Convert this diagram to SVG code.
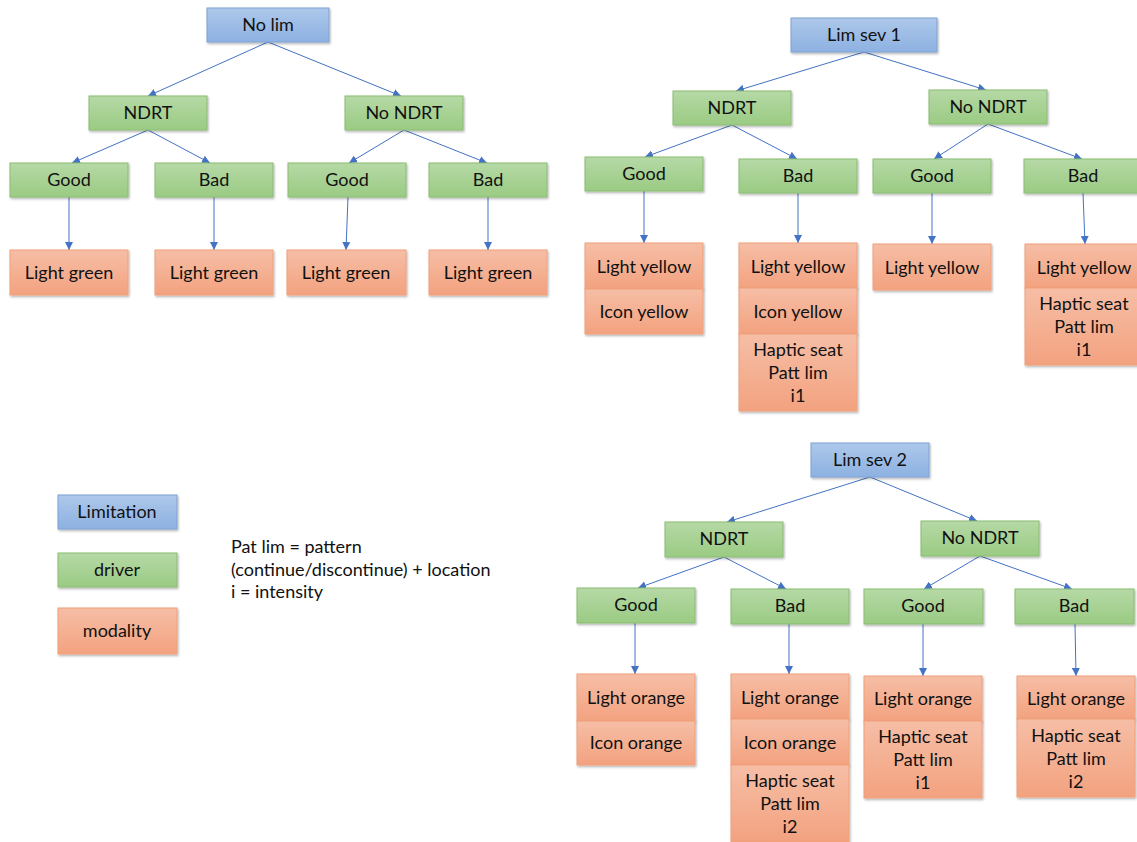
<svg xmlns="http://www.w3.org/2000/svg" width="1137" height="842" viewBox="0 0 1137 842">
  <defs>
    <linearGradient id="gBlue" x1="0" y1="0" x2="0" y2="1">
      <stop offset="0" stop-color="#adc8ea"/>
      <stop offset="1" stop-color="#8db1e1"/>
    </linearGradient>
    <linearGradient id="gGreen" x1="0" y1="0" x2="0" y2="1">
      <stop offset="0" stop-color="#b6d9a6"/>
      <stop offset="1" stop-color="#9acb83"/>
    </linearGradient>
    <linearGradient id="gOrange" x1="0" y1="0" x2="0" y2="1">
      <stop offset="0" stop-color="#f6bea6"/>
      <stop offset="1" stop-color="#f3a27f"/>
    </linearGradient>
    <filter id="shadow" x="-10%" y="-20%" width="125%" height="150%">
      <feDropShadow dx="1" dy="1.5" stdDeviation="1" flood-color="#000" flood-opacity="0.3"/>
    </filter>
    <marker id="arrow" markerUnits="userSpaceOnUse" markerWidth="8" markerHeight="8" refX="8" refY="4" orient="auto">
      <path d="M0,0 L8,4 L0,8 z" fill="#4472c4"/>
    </marker>
  </defs>
  <style>
    .lim { fill: url(#gBlue); stroke: #7ea2d6; stroke-width: 1; filter: url(#shadow); }
    .drv { fill: url(#gGreen); stroke: #8abd72; stroke-width: 1; filter: url(#shadow); }
    .mod { fill: url(#gOrange); stroke: #f0a07a; stroke-width: 1; filter: url(#shadow); }
    text { font-family: Lato, "Liberation Sans", sans-serif; font-size: 18px; fill: #111; }
    .c { text-anchor: middle; }
    .edge { stroke: #4472c4; stroke-width: 1; fill: none; marker-end: url(#arrow); }
  </style>

  <!-- connectors -->
  <g id="connectors">
    <!-- No lim tree -->
    <line class="edge" x1="268" y1="42" x2="148" y2="96"/>
    <line class="edge" x1="268" y1="42" x2="401" y2="96"/>
    <line class="edge" x1="148" y1="130" x2="72" y2="163"/>
    <line class="edge" x1="148" y1="130" x2="210" y2="163"/>
    <line class="edge" x1="404" y1="130" x2="349" y2="163"/>
    <line class="edge" x1="404" y1="130" x2="487" y2="163"/>
    <line class="edge" x1="69" y1="197" x2="69" y2="250"/>
    <line class="edge" x1="214" y1="197" x2="214" y2="250"/>
    <line class="edge" x1="348" y1="197" x2="346" y2="250"/>
    <line class="edge" x1="488" y1="197" x2="488" y2="250"/>
    <!-- Lim sev 1 tree -->
    <line class="edge" x1="864" y1="52" x2="736" y2="91"/>
    <line class="edge" x1="864" y1="52" x2="986" y2="90"/>
    <line class="edge" x1="732" y1="125" x2="645" y2="157"/>
    <line class="edge" x1="732" y1="125" x2="797" y2="159"/>
    <line class="edge" x1="988" y1="124" x2="934" y2="159"/>
    <line class="edge" x1="988" y1="124" x2="1082" y2="159"/>
    <line class="edge" x1="644" y1="191" x2="644" y2="243"/>
    <line class="edge" x1="798" y1="193" x2="798" y2="243"/>
    <line class="edge" x1="932" y1="193" x2="932" y2="244"/>
    <line class="edge" x1="1083" y1="193" x2="1085" y2="244"/>
    <!-- Lim sev 2 tree -->
    <line class="edge" x1="870" y1="477" x2="727" y2="522"/>
    <line class="edge" x1="870" y1="477" x2="977" y2="521"/>
    <line class="edge" x1="724" y1="557" x2="638" y2="588"/>
    <line class="edge" x1="724" y1="557" x2="786" y2="589"/>
    <line class="edge" x1="980" y1="556" x2="924" y2="589"/>
    <line class="edge" x1="980" y1="556" x2="1072" y2="589"/>
    <line class="edge" x1="635" y1="623" x2="635" y2="674"/>
    <line class="edge" x1="789" y1="624" x2="789" y2="674"/>
    <line class="edge" x1="923" y1="624" x2="923" y2="676"/>
    <line class="edge" x1="1075" y1="624" x2="1076" y2="676"/>
  </g>

  <!-- No lim tree -->
  <g id="nolim"><rect class="lim" x="207" y="8" width="122" height="34"/><text class="c" x="268" y="31">No lim</text></g>
  <g id="nolim-ndrt"><rect class="drv" x="89" y="96" width="118" height="34"/><text class="c" x="148" y="119">NDRT</text></g>
  <g id="nolim-nondrt"><rect class="drv" x="345" y="96" width="118" height="34"/><text class="c" x="404" y="119">No NDRT</text></g>
  <g id="nolim-ndrt-good"><rect class="drv" x="10" y="163" width="118" height="34"/><text class="c" x="69" y="186">Good</text></g>
  <g id="nolim-ndrt-bad"><rect class="drv" x="155" y="163" width="118" height="34"/><text class="c" x="214" y="186">Bad</text></g>
  <g id="nolim-nondrt-good"><rect class="drv" x="288" y="163" width="118" height="34"/><text class="c" x="347" y="186">Good</text></g>
  <g id="nolim-nondrt-bad"><rect class="drv" x="429" y="163" width="118" height="34"/><text class="c" x="488" y="186">Bad</text></g>
  <g id="nolim-m1"><rect class="mod" x="10" y="250" width="118" height="45"/><text class="c" x="69" y="279">Light green</text></g>
  <g id="nolim-m2"><rect class="mod" x="155" y="250" width="118" height="45"/><text class="c" x="214" y="279">Light green</text></g>
  <g id="nolim-m3"><rect class="mod" x="287" y="250" width="119" height="45"/><text class="c" x="346" y="279">Light green</text></g>
  <g id="nolim-m4"><rect class="mod" x="429" y="250" width="118" height="45"/><text class="c" x="488" y="279">Light green</text></g>

  <!-- Lim sev 1 tree -->
  <g id="sev1"><rect class="lim" x="791" y="18" width="146" height="34"/><text class="c" x="864" y="41">Lim sev 1</text></g>
  <g id="sev1-ndrt"><rect class="drv" x="673" y="91" width="118" height="34"/><text class="c" x="732" y="114">NDRT</text></g>
  <g id="sev1-nondrt"><rect class="drv" x="929" y="90" width="118" height="34"/><text class="c" x="988" y="113">No NDRT</text></g>
  <g id="sev1-ndrt-good"><rect class="drv" x="585" y="157" width="118" height="34"/><text class="c" x="644" y="180">Good</text></g>
  <g id="sev1-ndrt-bad"><rect class="drv" x="739" y="159" width="118" height="34"/><text class="c" x="798" y="182">Bad</text></g>
  <g id="sev1-nondrt-good"><rect class="drv" x="873" y="159" width="118" height="34"/><text class="c" x="932" y="182">Good</text></g>
  <g id="sev1-nondrt-bad"><rect class="drv" x="1024" y="159" width="118" height="34"/><text class="c" x="1083" y="182">Bad</text></g>
  <g id="sev1-m1">
    <rect class="mod" x="585" y="243" width="118" height="46"/><text class="c" x="644" y="273">Light yellow</text>
    <rect class="mod" x="585" y="289" width="118" height="45"/><text class="c" x="644" y="318">Icon yellow</text>
  </g>
  <g id="sev1-m2">
    <rect class="mod" x="739" y="243" width="118" height="45"/><text class="c" x="798" y="273">Light yellow</text>
    <rect class="mod" x="739" y="288" width="118" height="46"/><text class="c" x="798" y="318">Icon yellow</text>
    <rect class="mod" x="739" y="334" width="118" height="77"/>
    <text class="c" x="798" y="356">Haptic seat</text><text class="c" x="798" y="379">Patt lim</text><text class="c" x="798" y="402">i1</text>
  </g>
  <g id="sev1-m3"><rect class="mod" x="873" y="244" width="118" height="46"/><text class="c" x="932" y="274">Light yellow</text></g>
  <g id="sev1-m4">
    <rect class="mod" x="1025" y="244" width="118" height="44"/><text class="c" x="1084" y="274">Light yellow</text>
    <rect class="mod" x="1025" y="288" width="118" height="77"/>
    <text class="c" x="1084" y="310">Haptic seat</text><text class="c" x="1084" y="333">Patt lim</text><text class="c" x="1084" y="356">i1</text>
  </g>

  <!-- Lim sev 2 tree -->
  <g id="sev2"><rect class="lim" x="811" y="443" width="118" height="34"/><text class="c" x="870" y="466">Lim sev 2</text></g>
  <g id="sev2-ndrt"><rect class="drv" x="665" y="522" width="118" height="35"/><text class="c" x="724" y="545">NDRT</text></g>
  <g id="sev2-nondrt"><rect class="drv" x="921" y="521" width="118" height="35"/><text class="c" x="980" y="544">No NDRT</text></g>
  <g id="sev2-ndrt-good"><rect class="drv" x="577" y="588" width="118" height="35"/><text class="c" x="636" y="611">Good</text></g>
  <g id="sev2-ndrt-bad"><rect class="drv" x="731" y="589" width="118" height="35"/><text class="c" x="790" y="612">Bad</text></g>
  <g id="sev2-nondrt-good"><rect class="drv" x="864" y="589" width="119" height="35"/><text class="c" x="923" y="612">Good</text></g>
  <g id="sev2-nondrt-bad"><rect class="drv" x="1015" y="589" width="119" height="35"/><text class="c" x="1074" y="612">Bad</text></g>
  <g id="sev2-m1">
    <rect class="mod" x="577" y="674" width="118" height="47"/><text class="c" x="636" y="704">Light orange</text>
    <rect class="mod" x="577" y="721" width="118" height="44"/><text class="c" x="636" y="749">Icon orange</text>
  </g>
  <g id="sev2-m2">
    <rect class="mod" x="731" y="674" width="118" height="45"/><text class="c" x="790" y="704">Light orange</text>
    <rect class="mod" x="731" y="719" width="118" height="46"/><text class="c" x="790" y="749">Icon orange</text>
    <rect class="mod" x="731" y="765" width="118" height="77"/>
    <text class="c" x="790" y="787">Haptic seat</text><text class="c" x="790" y="810">Patt lim</text><text class="c" x="790" y="833">i2</text>
  </g>
  <g id="sev2-m3">
    <rect class="mod" x="864" y="676" width="118" height="45"/><text class="c" x="923" y="705">Light orange</text>
    <rect class="mod" x="864" y="721" width="118" height="77"/>
    <text class="c" x="923" y="743">Haptic seat</text><text class="c" x="923" y="766">Patt lim</text><text class="c" x="923" y="789">i1</text>
  </g>
  <g id="sev2-m4">
    <rect class="mod" x="1017" y="676" width="118" height="43"/><text class="c" x="1076" y="705">Light orange</text>
    <rect class="mod" x="1017" y="719" width="118" height="78"/>
    <text class="c" x="1076" y="742">Haptic seat</text><text class="c" x="1076" y="765">Patt lim</text><text class="c" x="1076" y="788">i2</text>
  </g>

  <!-- legend -->
  <g id="legend-limitation"><rect class="lim" x="58" y="495" width="119" height="34"/><text class="c" x="117" y="518">Limitation</text></g>
  <g id="legend-driver"><rect class="drv" x="58" y="553" width="119" height="34"/><text class="c" x="117" y="576">driver</text></g>
  <g id="legend-modality"><rect class="mod" x="58" y="608" width="119" height="46"/><text class="c" x="117" y="637">modality</text></g>
  <g id="legend-note">
    <text x="231" y="553">Pat lim = pattern</text>
    <text x="231" y="576">(continue/discontinue) + location</text>
    <text x="231" y="598">i = intensity</text>
  </g>
</svg>
